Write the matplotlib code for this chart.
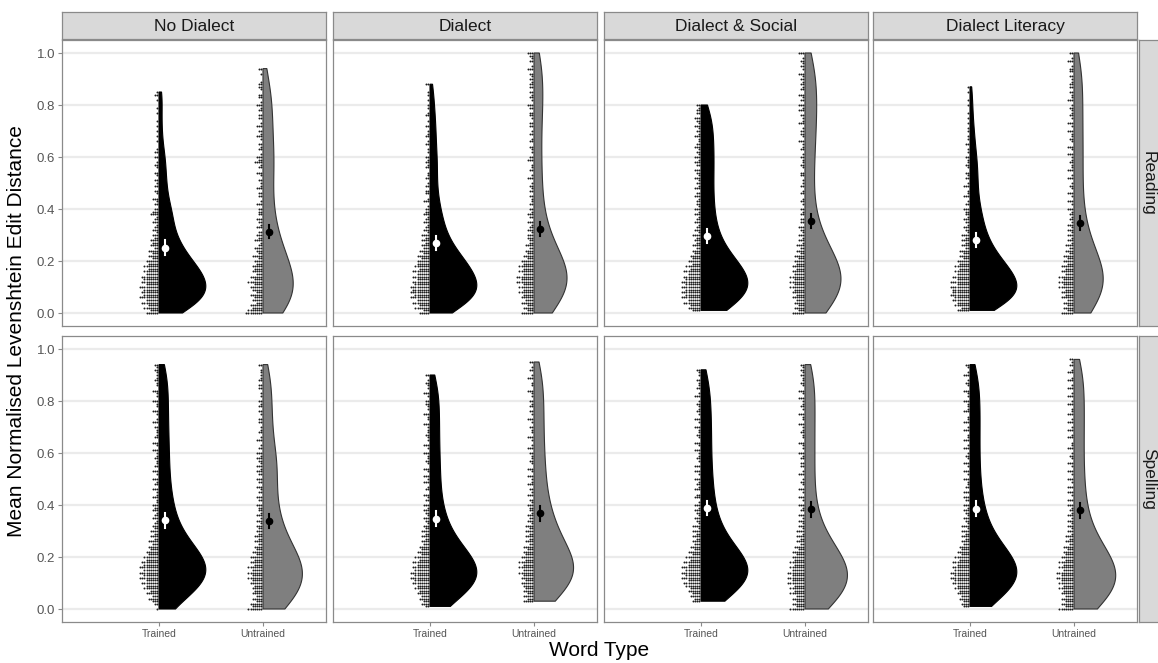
import numpy as np
import matplotlib
matplotlib.use("Agg")
import matplotlib.pyplot as plt
from matplotlib.patches import Polygon

plt.rcParams['font.family'] = ['Liberation Sans', 'DejaVu Sans']

conditions = ["No Dialect", "Dialect", "Dialect & Social", "Dialect Literacy"]
tasks = ["Reading", "Spelling"]
word_types = ["Trained", "Untrained"]

# dot stack heights: number of participants in each 0.01 bin, starting at 0.00
nd_read_tr = [6, 4, 7, 5, 8, 6, 9, 7, 8, 7, 9, 6, 8, 7, 8, 6, 7, 5, 7, 5,
              6, 3, 5, 3, 5, 2, 4, 3, 4, 2, 3, 1, 3, 2, 1, 3, 2, 1, 4, 3,
              2, 0, 2, 1, 3, 0, 1, 2, 0, 2, 1, 2, 0, 1, 2, 0, 1, 2, 1, 0,
              2, 0, 2, 1, 0, 0, 1, 0, 1, 0, 1, 0, 1, 0, 1, 0, 0, 1, 0, 1,
              0, 0, 1, 0, 2, 1]
nd_read_un = [8, 7, 5, 6, 3, 5, 4, 6, 3, 5, 6, 4, 7, 4, 6, 3, 5, 4, 5, 3,
              4, 2, 5, 2, 3, 4, 2, 1, 4, 2, 3, 2, 0, 3, 1, 2, 3, 0, 2, 2,
              2, 0, 3, 1, 0, 2, 2, 0, 3, 1, 1, 2, 0, 1, 3, 0, 2, 1, 4, 2,
              3, 1, 0, 2, 1, 2, 0, 1, 3, 1, 2, 0, 3, 1, 0, 2, 2, 0, 2, 1,
              3, 1, 0, 2, 2, 0, 1, 2, 2, 1, 0, 0, 1, 0, 2]
d_read_tr = [5, 3, 7, 5, 8, 6, 9, 7, 9, 8, 9, 7, 8, 6, 8, 6, 8, 5, 7, 6,
             6, 4, 6, 3, 5, 3, 4, 2, 4, 2, 4, 1, 3, 2, 1, 3, 2, 1, 3, 2,
             2, 1, 0, 3, 1, 0, 2, 2, 0, 2, 1, 0, 2, 1, 1, 0, 2, 1, 2, 1,
             2, 0, 1, 1, 0, 2, 1, 0, 2, 1, 1, 0, 2, 0, 1, 0, 2, 1, 0, 1,
             1, 0, 1, 0, 1, 1, 0, 0, 2]
d_read_un = [6, 3, 5, 3, 6, 4, 6, 5, 7, 5, 7, 5, 8, 6, 8, 5, 7, 5, 7, 5,
             6, 3, 5, 3, 4, 2, 4, 2, 2, 3, 3, 1, 3, 2, 1, 3, 0, 2, 3, 1,
             2, 0, 2, 1, 1, 2, 0, 2, 1, 2, 1, 0, 3, 1, 0, 2, 1, 1, 0, 3,
             2, 0, 1, 1, 2, 0, 2, 1, 0, 2, 1, 0, 2, 2, 0, 1, 2, 2, 0, 2,
             3, 0, 1, 2, 1, 2, 0, 2, 2, 1, 2, 1, 2, 0, 3, 1, 0, 2, 1, 2, 3]
ds_read_tr = [0, 4, 6, 5, 8, 6, 9, 7, 9, 7, 9, 7, 9, 7, 8, 6, 8, 5, 7, 4,
              6, 4, 5, 3, 4, 2, 4, 2, 3, 2, 4, 1, 3, 2, 1, 3, 2, 1, 3, 1,
              3, 1, 2, 2, 1, 3, 2, 0, 3, 1, 2, 1, 3, 1, 2, 3, 0, 2, 3, 1,
              3, 1, 2, 1, 3, 2, 1, 1, 3, 1, 2, 1, 3, 1, 2, 3, 0, 2, 2, 1,
              2]
ds_read_un = [6, 3, 5, 3, 5, 4, 6, 4, 6, 5, 7, 5, 7, 5, 7, 5, 6, 4, 6, 4,
              5, 3, 5, 2, 4, 2, 4, 1, 3, 1, 3, 1, 2, 3, 0, 2, 2, 0, 2, 1,
              2, 0, 1, 2, 1, 0, 2, 1, 0, 2, 1, 1, 0, 2, 2, 0, 1, 2, 1, 1,
              2, 1, 0, 2, 1, 1, 3, 0, 1, 2, 2, 1, 0, 3, 1, 1, 2, 0, 3, 1,
              3, 0, 2, 1, 3, 0, 2, 1, 2, 1, 2, 1, 3, 0, 1, 2, 1, 2, 1, 0, 3]
dl_read_tr = [0, 6, 4, 7, 6, 8, 7, 9, 8, 8, 9, 6, 9, 6, 8, 6, 7, 5, 7, 5,
              6, 3, 5, 3, 5, 2, 4, 2, 4, 2, 4, 1, 2, 3, 1, 2, 3, 1, 2, 2,
              3, 0, 2, 1, 0, 3, 1, 1, 0, 3, 1, 0, 2, 1, 2, 0, 1, 2, 1, 1,
              2, 0, 1, 1, 0, 2, 0, 1, 1, 0, 1, 1, 0, 1, 0, 1, 0, 1, 0, 0,
              1, 0, 1, 0, 0, 1, 0, 1]
dl_read_un = [6, 3, 5, 3, 5, 3, 6, 4, 6, 4, 7, 5, 7, 5, 7, 4, 6, 4, 6, 3,
              5, 3, 5, 2, 4, 2, 4, 1, 3, 1, 3, 1, 3, 1, 3, 1, 2, 1, 2, 1,
              3, 0, 1, 3, 0, 1, 3, 0, 1, 2, 1, 0, 3, 1, 0, 3, 1, 1, 2, 1,
              1, 3, 0, 1, 3, 0, 1, 2, 1, 1, 3, 0, 1, 3, 0, 1, 2, 1, 1, 2,
              1, 0, 3, 1, 1, 2, 0, 2, 2, 1, 1, 2, 0, 2, 2, 1, 0, 3, 1, 0, 2]

nd_spell_tr = [1, 0, 2, 3, 5, 3, 6, 4, 7, 6, 8, 6, 9, 7, 9, 7, 9, 7, 8, 6,
               7, 5, 6, 4, 5, 3, 5, 2, 4, 2, 4, 2, 3, 2, 1, 3, 2, 1, 3, 2,
               3, 1, 1, 3, 1, 1, 3, 0, 2, 1, 3, 0, 1, 3, 0, 2, 1, 1, 2, 1,
               1, 3, 0, 1, 3, 0, 2, 1, 1, 1, 2, 0, 3, 1, 0, 1, 3, 0, 1, 1,
               3, 0, 1, 1, 3, 0, 1, 1, 2, 1, 1, 1, 2, 1, 2]
nd_spell_un = [7, 5, 6, 3, 5, 3, 5, 4, 5, 4, 6, 5, 7, 5, 7, 5, 7, 4, 6, 4,
               6, 3, 5, 3, 4, 2, 4, 2, 4, 2, 3, 2, 3, 1, 3, 1, 3, 1, 2, 2,
               3, 0, 2, 3, 0, 2, 1, 3, 0, 2, 3, 0, 2, 3, 1, 3, 1, 2, 3, 1,
               3, 0, 2, 1, 0, 3, 1, 0, 2, 1, 1, 0, 2, 2, 0, 1, 2, 0, 2, 1,
               2, 0, 1, 1, 0, 2, 2, 0, 2, 1, 1, 1, 1, 0, 2]
d_spell_tr = [0, 2, 4, 3, 5, 4, 6, 5, 7, 6, 8, 7, 9, 7, 9, 7, 8, 6, 8, 5,
              7, 4, 6, 4, 5, 3, 4, 2, 4, 2, 4, 2, 3, 1, 2, 3, 1, 2, 3, 1,
              3, 0, 2, 1, 3, 0, 2, 1, 0, 3, 1, 3, 0, 1, 3, 0, 1, 2, 1, 1,
              3, 0, 1, 3, 0, 1, 1, 2, 1, 1, 1, 3, 0, 1, 1, 3, 0, 1, 1, 2,
              2, 0, 1, 3, 0, 1, 1, 2, 1, 0, 2]
d_spell_un = [0, 0, 0, 5, 3, 5, 3, 5, 4, 5, 6, 4, 6, 5, 7, 5, 7, 5, 7, 4,
              6, 4, 5, 3, 5, 2, 4, 2, 4, 2, 4, 2, 4, 1, 3, 2, 3, 1, 2, 2,
              3, 1, 2, 0, 3, 1, 2, 0, 3, 1, 1, 3, 0, 1, 3, 0, 1, 2, 1, 1,
              2, 0, 3, 1, 0, 1, 3, 0, 1, 1, 2, 0, 1, 3, 0, 1, 2, 0, 2, 1,
              2, 0, 1, 1, 3, 0, 1, 1, 0, 3, 1, 0, 2, 1, 0, 2]
ds_spell_tr = [0, 0, 0, 4, 3, 5, 4, 6, 5, 7, 8, 6, 9, 7, 9, 7, 9, 6, 8, 5,
               7, 4, 6, 3, 5, 3, 4, 2, 4, 2, 4, 1, 4, 1, 2, 3, 1, 2, 3, 1,
               3, 1, 0, 3, 2, 0, 3, 1, 2, 1, 3, 0, 1, 3, 0, 3, 0, 1, 2, 1,
               1, 3, 0, 1, 3, 0, 1, 2, 1, 1, 3, 0, 1, 3, 0, 1, 2, 1, 1, 2,
               1, 0, 3, 1, 0, 2, 1, 1, 2, 0, 1, 1, 2]
ds_spell_un = [7, 4, 6, 4, 6, 4, 7, 5, 7, 5, 8, 6, 8, 6, 8, 6, 7, 5, 7, 5,
               6, 4, 6, 3, 5, 2, 4, 2, 4, 1, 4, 1, 3, 1, 3, 1, 3, 0, 2, 1,
               3, 0, 1, 3, 0, 1, 3, 0, 1, 2, 1, 0, 3, 1, 0, 2, 2, 0, 2, 1,
               3, 0, 1, 1, 3, 0, 1, 1, 2, 1, 1, 3, 0, 1, 1, 3, 0, 1, 2, 1,
               1, 3, 0, 1, 3, 0, 1, 2, 1, 1, 2, 1, 2, 1, 2]
dl_spell_tr = [0, 3, 4, 3, 5, 4, 6, 5, 7, 6, 8, 7, 9, 7, 9, 7, 8, 6, 8, 5,
               7, 4, 6, 4, 5, 3, 4, 2, 4, 2, 4, 1, 4, 1, 2, 3, 1, 2, 3, 1,
               3, 0, 2, 3, 0, 3, 0, 2, 1, 1, 3, 0, 1, 3, 0, 1, 3, 0, 1, 2,
               1, 0, 3, 1, 0, 3, 1, 1, 0, 3, 1, 0, 3, 1, 1, 0, 3, 1, 1, 1,
               3, 0, 1, 1, 3, 0, 1, 2, 1, 0, 3, 1, 0, 1, 2]
dl_spell_un = [7, 4, 6, 4, 6, 4, 6, 5, 7, 5, 7, 6, 8, 6, 8, 5, 7, 5, 7, 4,
               6, 4, 5, 3, 5, 2, 4, 2, 4, 1, 3, 1, 3, 1, 3, 1, 3, 1, 2, 1,
               3, 0, 3, 0, 1, 3, 0, 3, 0, 1, 3, 0, 1, 3, 0, 1, 3, 0, 1, 2,
               1, 0, 3, 1, 1, 0, 3, 1, 0, 3, 1, 0, 3, 1, 0, 3, 1, 1, 0, 3,
               1, 0, 3, 1, 0, 3, 1, 0, 3, 1, 0, 3, 1, 0, 2, 1, 2]

# means and standard errors (per condition)
read_mean_tr = [0.251, 0.270, 0.296, 0.281]
read_mean_un = [0.313, 0.323, 0.355, 0.347]
spell_mean_tr = [0.342, 0.347, 0.389, 0.385]
spell_mean_un = [0.338, 0.368, 0.383, 0.380]
read_se_tr = [0.028, 0.027, 0.027, 0.027]
read_se_un = [0.025, 0.026, 0.027, 0.026]
spell_se_tr = [0.029, 0.029, 0.028, 0.029]
spell_se_un = [0.028, 0.029, 0.029, 0.029]

scores = [
    [(nd_read_tr, nd_read_un), (d_read_tr, d_read_un), (ds_read_tr, ds_read_un), (dl_read_tr, dl_read_un)],
    [(nd_spell_tr, nd_spell_un), (d_spell_tr, d_spell_un), (ds_spell_tr, ds_spell_un), (dl_spell_tr, dl_spell_un)],
]
means = [(read_mean_tr, read_mean_un), (spell_mean_tr, spell_mean_un)]
ses = [(read_se_tr, read_se_un), (spell_se_tr, spell_se_un)]

fill_cols = ["black", "#7f7f7f"]
edge_cols = ["black", "#333333"]
mean_cols = ["white", "black"]


def expand(counts):
    bins = np.arange(len(counts)) / 100
    return np.repeat(bins, counts)


def nrd0(x):
    sd = np.std(x, ddof=1)
    iqr = np.subtract(*np.percentile(x, [75, 25]))
    lo = min(sd, iqr / 1.34)
    return 0.9 * lo * len(x) ** -0.2


def density(x):
    grid = np.linspace(x.min(), x.max(), 512)
    bw = nrd0(x)
    d = np.exp(-0.5 * ((grid[:, None] - x[None, :]) / bw) ** 2).sum(axis=1)
    d /= len(x) * bw * np.sqrt(2 * np.pi)
    return grid, d


W, H = 1158, 663
fig = plt.figure(figsize=(W / 100, H / 100), dpi=100)


def px_axes(left, top, w, h):
    return fig.add_axes([left / W, 1 - (top + h) / H, w / W, h / H])


border = "#8a8a8a"
col_left = [62, 333, 604, 873]
row_top = [40, 336]
pw, ph = 264, 286
dot_step = 0.021

for r in range(2):
    for c in range(4):
        ax = px_axes(col_left[c], row_top[r], pw, ph)
        ax.set_xlim(0.067, 2.606)
        ax.set_ylim(-0.05, 1.05)
        ax.set_yticks([0, 0.2, 0.4, 0.6, 0.8, 1.0])
        ax.yaxis.grid(True, color="#ebebeb", lw=1.6)
        ax.set_axisbelow(True)
        for s in ax.spines.values():
            s.set_color(border)
            s.set_linewidth(0.9)
        ax.set_xticks([1, 2])
        if r == 1:
            ax.set_xticklabels(word_types)
            ax.tick_params(axis="x", length=3, color=border, labelsize=7.5, labelcolor="#555555", pad=2)
        else:
            ax.tick_params(axis="x", length=0, labelbottom=False)
        if c == 0:
            ax.set_yticklabels(["0.0", "0.2", "0.4", "0.6", "0.8", "1.0"])
            ax.tick_params(axis="y", length=3, color=border, labelsize=9.5, labelcolor="#555555", pad=2)
        else:
            ax.tick_params(axis="y", length=0, labelleft=False)

        dens = [density(expand(scores[r][c][j])) for j in range(2)]
        dmax = max(d.max() for _, d in dens)

        for j in range(2):
            pos = j + 1
            grid, d = dens[j]
            w = 0.45 * d / dmax
            xs = np.concatenate([pos + w, [pos, pos]])
            ys = np.concatenate([grid, [grid[-1], grid[0]]])
            ax.add_patch(Polygon(np.column_stack([xs, ys]), closed=True,
                                 facecolor=fill_cols[j], edgecolor=edge_cols[j], lw=0.8, zorder=2))

            counts = scores[r][c][j]
            dx, dy = [], []
            for b, n in enumerate(counts):
                for k in range(n):
                    dx.append(pos - (k + 0.7) * dot_step)
                    dy.append(b / 100)
            ax.scatter(dx, dy, s=2.0, color="#1e1e1e", lw=0, zorder=3)

            m = means[r][j][c]
            se = ses[r][j][c]
            mx = pos + 0.058
            ax.plot([mx, mx], [m - se, m + se], color=mean_cols[j], lw=1.5, zorder=4)
            ax.plot(mx, m, "o", ms=4.5, color=mean_cols[j], mec=mean_cols[j], zorder=5)

        if r == 0:
            st = px_axes(col_left[c], 12, pw, 27)
            st.set_facecolor("#d9d9d9")
            st.set_xticks([])
            st.set_yticks([])
            for s in st.spines.values():
                s.set_color(border)
                s.set_linewidth(0.9)
            st.text(0.5, 0.48, conditions[c], ha="center", va="center", fontsize=12.5, color="#1a1a1a",
                    transform=st.transAxes)

    rs = px_axes(1139, row_top[r], 21, ph)
    rs.set_facecolor("#d9d9d9")
    rs.set_xticks([])
    rs.set_yticks([])
    for s in rs.spines.values():
        s.set_color(border)
        s.set_linewidth(0.9)
    rs.text(0.45, 0.5, tasks[r], ha="center", va="center", rotation=270, fontsize=12.5, color="#1a1a1a",
            transform=rs.transAxes)

fig.text(17 / W, 1 - 331 / H, "Mean Normalised Levenshtein Edit Distance", rotation=90,
         ha="center", va="center", fontsize=15)
fig.text(599.5 / W, 1 - 651 / H, "Word Type", ha="center", va="center", fontsize=15)

fig.savefig("out.png", dpi=100)
